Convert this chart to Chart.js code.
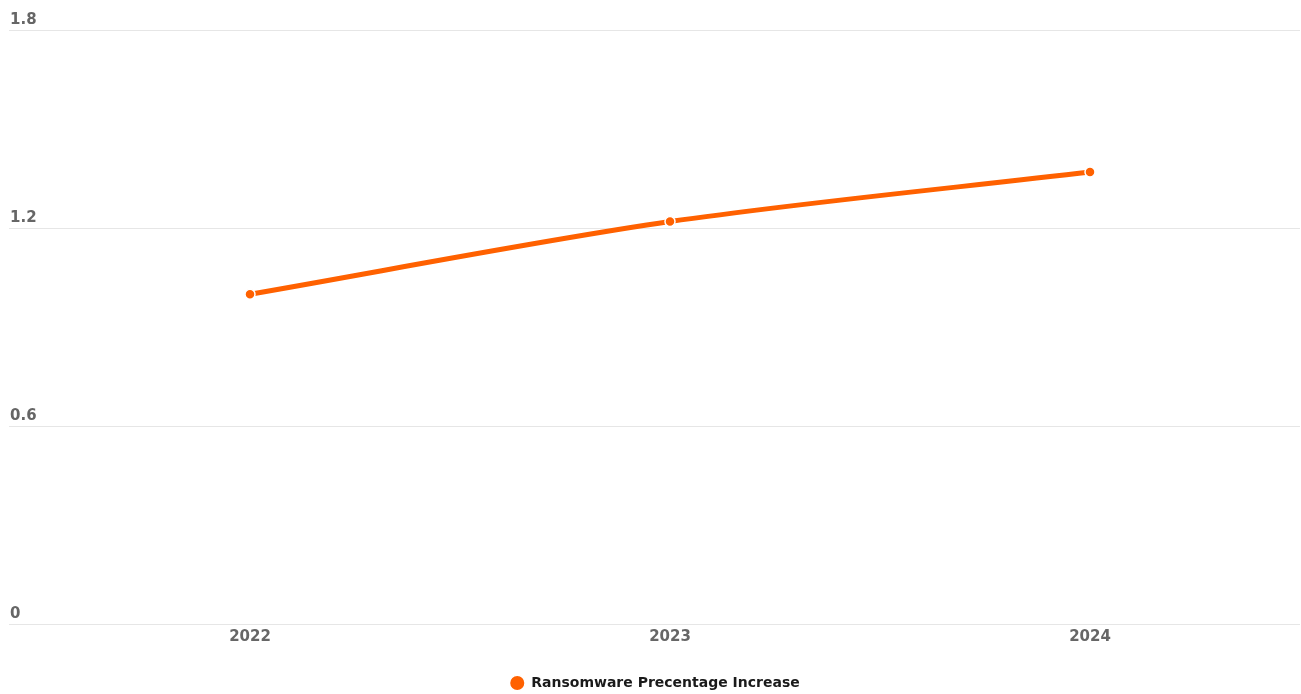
<!DOCTYPE html>
<html>
<head>
<meta charset="utf-8">
<script src="https://cdn.jsdelivr.net/npm/chart.js@4"></script>
<style>
  html, body { margin: 0; padding: 0; background: #fff; }
  #wrap { width: 1301px; height: 694px; }
</style>
</head>
<body>
<div id="wrap"><canvas id="ransomChart"></canvas></div>
<script>
const years = ["2022", "2023", "2024"];
const increase = [1.0, 1.22, 1.37];
const yTicks = [0, 0.6, 1.2, 1.8];

const orange = '#FF6100';

document.addEventListener('DOMContentLoaded', function() {
    const ctx = document.getElementById('ransomChart').getContext('2d');
    new Chart(ctx, {
        type: 'line',
        data: {
            labels: years,
            datasets: [{
                label: 'Ransomware Precentage Increase',
                data: increase,
                borderColor: orange,
                backgroundColor: orange,
                borderWidth: 5,
                tension: 0.3,
                pointRadius: 5,
                pointBorderColor: '#ffffff',
                pointBorderWidth: 1.5,
                pointBackgroundColor: orange
            }]
        },
        options: {
            responsive: true,
            maintainAspectRatio: false,
            animation: false,
            layout: {
                autoPadding: false,
                padding: { top: 30, left: 10, right: 1, bottom: -6 }
            },
            scales: {
                y: {
                    min: 0,
                    max: 1.8,
                    afterBuildTicks: (scale) => {
                        scale.ticks = yTicks.map(v => ({ value: v }));
                    },
                    afterFit: (scale) => { scale.width = 30; },
                    border: { display: false },
                    grid: {
                        color: '#e6e6e6',
                        lineWidth: 1,
                        drawTicks: true,
                        tickLength: 31
                    },
                    ticks: {
                        crossAlign: 'far',
                        labelOffset: -10,
                        padding: 0,
                        color: '#666666',
                        font: { family: 'DejaVu Sans', size: 15, weight: 'bold' },
                        callback: (v) => String(v)
                    }
                },
                x: {
                    offset: true,
                    afterFit: (scale) => {
                        scale.height = 47;
                        scale.paddingLeft = 0;
                        scale.paddingRight = 0;
                    },
                    border: { display: false },
                    grid: { display: false, drawTicks: false },
                    ticks: {
                        padding: 4,
                        color: '#666666',
                        font: { family: 'DejaVu Sans', size: 15, weight: 'bold' }
                    }
                }
            },
            plugins: {
                legend: {
                    position: 'bottom',
                    labels: {
                        usePointStyle: true,
                        pointStyle: 'circle',
                        boxWidth: 24,
                        boxHeight: 11,
                        padding: 4.5,
                        color: '#1a1a1a',
                        font: { family: 'DejaVu Sans', size: 14, weight: 'bold' }
                    }
                },
                tooltip: { enabled: false }
            }
        }
    });
});
</script>
</body>
</html>
